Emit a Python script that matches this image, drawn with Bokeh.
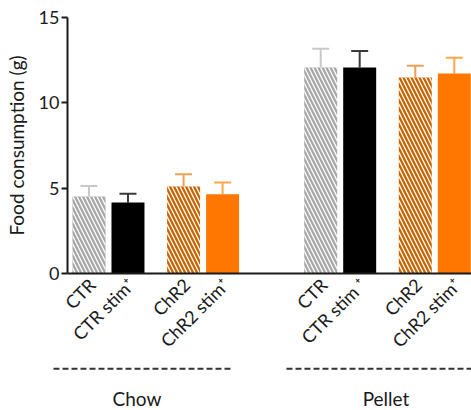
from math import pi
from bokeh.plotting import figure
from bokeh.layouts import column
from bokeh.models import Range1d, FixedTicker, CustomJSTickFormatter, ColumnDataSource
from bokeh.embed import file_html
from bokeh.resources import INLINE
from bokeh.core.properties import value

# ---- data ----
diets = ["Chow", "Pellet"]
groups = ["CTR", "CTR stim+", "ChR2", "ChR2 stim+"]
tick_labels = ["CTR", "CTR stim\u207a", "ChR2", "ChR2 stim\u207a",
               "CTR", "CTR stim \u207a", "ChR2", "ChR2 stim\u207a"]
chow_mean = [4.51, 4.16, 5.10, 4.65]
chow_sem = [0.61, 0.51, 0.72, 0.68]
pellet_mean = [12.07, 12.07, 11.48, 11.72]
pellet_sem = [1.10, 0.96, 0.69, 0.92]
y_ticks = [0, 5, 10, 15]

# ---- styles ----
FONT = "Lato"
fills = ["#a6a6a6", "#000000", "#c86400", "#ff7700"]
hatches = ["\\", " ", "\\", " "]
err_colors = ["#c8c8c8", "#3a3a3a", "#eea050", "#ffa64d"]

PAIR_GAP = 2.426
GROUP_GAP = 5.941
BAR_W = 0.846
FIG_W = 471
LEFT = 67
X0 = -0.551
X1 = 9.808
PX = (FIG_W - LEFT) / (X1 - X0)   # pixels per x unit

xs, tops, sems, fc, hp, ec = [], [], [], [], [], []
for g, (m, s) in enumerate([(chow_mean, chow_sem), (pellet_mean, pellet_sem)]):
    for k in range(4):
        xs.append(g * GROUP_GAP + (k // 2) * PAIR_GAP + (k % 2))
        tops.append(m[k])
        sems.append(s[k])
        fc.append(fills[k])
        hp.append(hatches[k])
        ec.append(err_colors[k])

src = ColumnDataSource(dict(x=xs, top=tops, err=[t + e for t, e in zip(tops, sems)],
                            fill=fc, hatch=hp, ecol=ec))

p = figure(width=FIG_W, height=365, output_backend="svg", toolbar_location=None,
           x_range=Range1d(X0, X1), y_range=Range1d(0, 15),
           min_border_left=LEFT, min_border_right=0, min_border_top=17, min_border_bottom=92)
p.frame_align = False
p.outline_line_color = None
p.xgrid.visible = False
p.ygrid.visible = False

# error bars (upper only)
p.segment(x0="x", x1="x", y0="top", y1="err", line_color="ecol", line_width=2, source=src)
p.scatter(x="x", y="err", marker="dash", size=17, line_color="ecol", line_width=2, source=src)
# bars
p.vbar(x="x", top="top", width=BAR_W, bottom=0, fill_color="fill", line_color=None,
       hatch_pattern="hatch", hatch_color="white", hatch_scale=8, hatch_weight=1.3, source=src)

# y axis
ya = p.yaxis[0]
ya.ticker = FixedTicker(ticks=y_ticks)
ya.minor_tick_line_color = None
ya.major_tick_in = 0
ya.major_tick_out = 6
ya.major_tick_line_width = 2
ya.axis_line_width = 2
ya.axis_line_color = "#1a1a1a"
ya.major_tick_line_color = "#1a1a1a"
ya.major_label_text_font = FONT
ya.major_label_text_font_size = "18px"
ya.major_label_text_color = "#1a1a1a"
ya.major_label_standoff = 2
ya.axis_label = "Food consumption (g)"
ya.axis_label_text_font = FONT
ya.axis_label_text_font_size = "19px"
ya.axis_label_text_font_style = "normal"
ya.axis_label_text_color = "#1a1a1a"
ya.axis_label_standoff = 8

# x axis
xa = p.xaxis[0]
xa.ticker = FixedTicker(ticks=[x + 0.08 for x in xs])
xa.formatter = CustomJSTickFormatter(args=dict(labels=tick_labels, xs=xs), code="""
let best = 0;
for (let i = 0; i < xs.length; i++) {
  if (Math.abs(xs[i] - tick) < Math.abs(xs[best] - tick)) best = i;
}
return labels[best];
""")
xa.major_label_orientation = pi / 4
xa.major_tick_line_color = None
xa.minor_tick_line_color = None
xa.major_tick_out = 0
xa.major_tick_in = 0
xa.major_label_standoff = 8
xa.axis_line_width = 2
xa.axis_line_color = "#1a1a1a"
xa.major_label_text_font = FONT
xa.major_label_text_font_size = "18px"
xa.major_label_text_color = "#1a1a1a"

# ---- group brackets and labels strip ----
P2_H = 45
p2 = figure(width=FIG_W, height=P2_H, output_backend="svg", toolbar_location=None,
            x_range=Range1d(X0 - LEFT / PX, X1), y_range=Range1d(0, P2_H),
            x_axis_location=None, y_axis_location=None, min_border=0)
p2.frame_align = False
p2.outline_line_color = None
p2.xgrid.visible = False
p2.ygrid.visible = False

line_start = [-0.91, GROUP_GAP - 0.877]
line_end = [3.705, GROUP_GAP + 4.2]
label_x = [1.23, GROUP_GAP + 1.674]
LINE_Y = P2_H - 3.3
TEXT_Y = 12
p2.segment(x0=line_start, x1=line_end, y0=[LINE_Y] * 2, y1=[LINE_Y] * 2,
           line_color="#333333", line_width=2, line_dash="6 3")
p2.text(x=label_x, y=[TEXT_Y] * 2, text=diets, text_align="center", text_baseline="alphabetic",
        text_font=value(FONT), text_font_size="19px", text_color="#1a1a1a")

layout = column(p, p2, spacing=0)
open("out.html", "w").write(file_html(layout, INLINE))
